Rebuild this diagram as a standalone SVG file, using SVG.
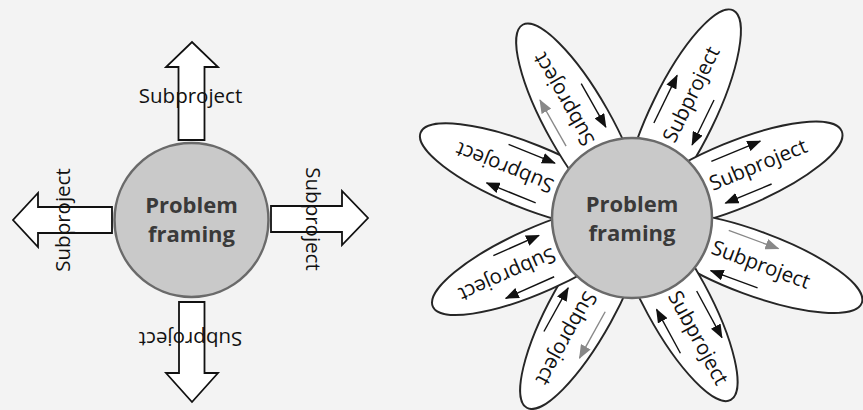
<svg xmlns="http://www.w3.org/2000/svg" width="863" height="410" viewBox="0 0 863 410">
  <style>
    .lbl { font-family: "Open Sans", "Liberation Sans", sans-serif; font-size: 20.5px; fill: #111; text-anchor: middle; }
    .core { font-family: "Open Sans", "Liberation Sans", sans-serif; font-weight: bold; font-size: 22px; fill: #3a3a3a; text-anchor: middle; }
    .hub { fill: #c9c9c9; stroke: #6a6a6a; stroke-width: 2.5; }
    .block { fill: #fff; stroke: #111; stroke-width: 1.8; stroke-linejoin: miter; }
    .petal { fill: #fff; stroke: #262626; stroke-width: 1.9; }
    .arr { stroke: #111; stroke-width: 1.4; fill: none; marker-end: url(#head); }
    .arr.grey { stroke: #888; marker-end: url(#head-grey); }
  </style>
  <defs>
    <marker id="head" markerUnits="userSpaceOnUse" markerWidth="14" markerHeight="11" refX="13" refY="5.5" orient="auto">
      <path d="M0,0 L14,5.5 L0,11 Z" fill="#111"/>
    </marker>
    <marker id="head-grey" markerUnits="userSpaceOnUse" markerWidth="14" markerHeight="11" refX="13" refY="5.5" orient="auto">
      <path d="M0,0 L14,5.5 L0,11 Z" fill="#888"/>
    </marker>
  </defs>

  <rect width="863" height="410" fill="#f3f3f3"/>

  <!-- Left: hub with four outgoing block arrows -->
  <g id="connectors">
    <polygon class="block" points="178.5,140 178.5,67 166,67 192,42 218,67 204.5,67 204.5,140"/>
    <polygon class="block" points="179,302 179,373 166,373 192,402 218,373 204.5,373 204.5,302"/>
    <polygon class="block" points="112,207 38,207 38,193 13,220 38,247 38,233 112,233"/>
    <polygon class="block" points="271,206 342,206 342,191 368,218 342,245 342,232 271,232"/>
    <text class="lbl" x="190.5" y="103">Subproject</text>
    <text class="lbl" transform="translate(190.5 332) rotate(180)">Subproject</text>
    <text class="lbl" transform="translate(70 220) rotate(-90)">Subproject</text>
    <text class="lbl" transform="translate(306 219) rotate(90)">Subproject</text>
  </g>

  <g id="hub-left">
    <circle class="hub" cx="191.5" cy="220" r="77"/>
    <text class="core" x="191.5" y="213">Problem</text>
    <text class="core" x="191.5" y="242">framing</text>
  </g>

  <!-- Right: hub with eight petals, each holding an out and back arrow -->
  <g id="petal-lu" transform="translate(632 218) rotate(-158)">
    <ellipse class="petal" cx="113" cy="0" rx="115" ry="32"/>
    <text class="lbl" x="137" y="6">Subproject</text>
    <line class="arr" x1="95" y1="-22" x2="148" y2="-22"/>
    <line class="arr" x1="142" y1="22" x2="92" y2="22"/>
  </g>
  <g id="petal-ul" transform="translate(632 218) rotate(-119.5)">
    <ellipse class="petal" cx="107" cy="0" rx="115" ry="32"/>
    <text class="lbl" x="137" y="6">Subproject</text>
    <line class="arr grey" x1="95" y1="-22" x2="148" y2="-22"/>
    <line class="arr" x1="142" y1="22" x2="92" y2="22"/>
  </g>
  <g id="petal-tr" transform="translate(632 218) rotate(-64)">
    <ellipse class="petal" cx="116" cy="0" rx="115" ry="32"/>
    <text class="lbl" x="137" y="6">Subproject</text>
    <line class="arr" x1="95" y1="-22" x2="148" y2="-22"/>
    <line class="arr" x1="142" y1="22" x2="92" y2="22"/>
  </g>
  <g id="petal-ru" transform="translate(632 218) rotate(-22.5)">
    <ellipse class="petal" cx="112" cy="0" rx="115" ry="33"/>
    <text class="lbl" x="137" y="6">Subproject</text>
    <line class="arr" x1="95" y1="-22" x2="148" y2="-22"/>
    <line class="arr" x1="142" y1="22" x2="92" y2="22"/>
  </g>
  <g id="petal-rl" transform="translate(632 218) rotate(20.3)">
    <ellipse class="petal" cx="130" cy="0" rx="115" ry="32"/>
    <text class="lbl" x="137" y="6">Subproject</text>
    <line class="arr grey" x1="95" y1="-22" x2="148" y2="-22"/>
    <line class="arr" x1="142" y1="22" x2="92" y2="22"/>
  </g>
  <g id="petal-br" transform="translate(632 218) rotate(61.5)">
    <ellipse class="petal" cx="92" cy="0" rx="115" ry="32"/>
    <text class="lbl" x="137" y="6">Subproject</text>
    <line class="arr" x1="95" y1="-22" x2="148" y2="-22"/>
    <line class="arr" x1="142" y1="22" x2="92" y2="22"/>
  </g>
  <g id="petal-bl" transform="translate(632 218) rotate(119)">
    <ellipse class="petal" cx="102" cy="0" rx="115" ry="32"/>
    <text class="lbl" x="137" y="6">Subproject</text>
    <line class="arr grey" x1="95" y1="-22" x2="148" y2="-22"/>
    <line class="arr" x1="142" y1="22" x2="92" y2="22"/>
  </g>
  <g id="petal-ll" transform="translate(632 218) rotate(156)">
    <ellipse class="petal" cx="103" cy="0" rx="115" ry="32"/>
    <text class="lbl" x="137" y="6">Subproject</text>
    <line class="arr" x1="95" y1="-22" x2="148" y2="-22"/>
    <line class="arr" x1="142" y1="22" x2="92" y2="22"/>
  </g>

  <g id="hub-right">
    <circle class="hub" cx="632" cy="218" r="80"/>
    <text class="core" x="632" y="212">Problem</text>
    <text class="core" x="632" y="241">framing</text>
  </g>
</svg>
